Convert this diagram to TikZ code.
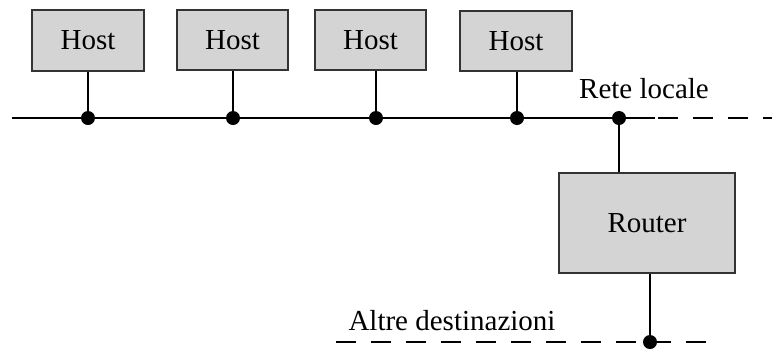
\documentclass[tikz,border=0pt]{standalone}
\usepackage{fontspec}
\setmainfont{Liberation Serif}
\begin{document}
\begin{tikzpicture}[x=1pt,y=-1pt,
  box/.style={draw=black!80,line width=1.6pt,fill=black!17,inner sep=0pt,font=\fontsize{29}{32}\selectfont},
  dot/.style={circle,fill=black,inner sep=0pt,minimum size=14pt},
  wire/.style={line width=1.4pt},
  dashwire/.style={line width=1.4pt,dash pattern=on 20pt off 15pt},
  lbl/.style={font=\fontsize{29}{32}\selectfont,inner sep=0pt}]
\useasboundingbox (0,0) rectangle (772,349);
\node[box,minimum width=112pt,minimum height=61pt] (h1) at (88,40.5) {Host};
\node[box,minimum width=111pt,minimum height=60pt] (h2) at (232.5,40) {Host};
\node[box,minimum width=111pt,minimum height=60pt] (h3) at (370.5,40) {Host};
\node[box,minimum width=112pt,minimum height=60pt] (h4) at (516,41) {Host};
\node[box,minimum width=176pt,minimum height=100pt] (r) at (647,223) {Router};
\coordinate (L0) at (12,118);
\coordinate (L1) at (655,118);
\coordinate (L2) at (772,118);
\coordinate (B0) at (336,342);
\coordinate (B1) at (712,342);
\node[dot] (d1) at (88,118) {};
\node[dot] (d2) at (233,118) {};
\node[dot] (d3) at (376,118) {};
\node[dot] (d4) at (517,118) {};
\node[dot] (d5) at (619,118) {};
\node[dot] (d6) at (650,342) {};
\draw[wire] (L0) -- (L1);
\draw[dashwire] (L1) ++(3,0) -- (L2);
\draw[dashwire] (B0) -- (B1);
\draw[wire] (d1.center) -- (d1.center |- h1.south);
\draw[wire] (d2.center) -- (d2.center |- h2.south);
\draw[wire] (d3.center) -- (d3.center |- h3.south);
\draw[wire] (d4.center) -- (d4.center |- h4.south);
\draw[wire] (d5.center) -- (d5.center |- r.north);
\draw[wire] (d6.center) -- (d6.center |- r.south);
\node[lbl] (rl) at (644,89) {Rete locale};
\node[lbl] (ad) at (452,321) {Altre destinazioni};
\end{tikzpicture}
\end{document}
